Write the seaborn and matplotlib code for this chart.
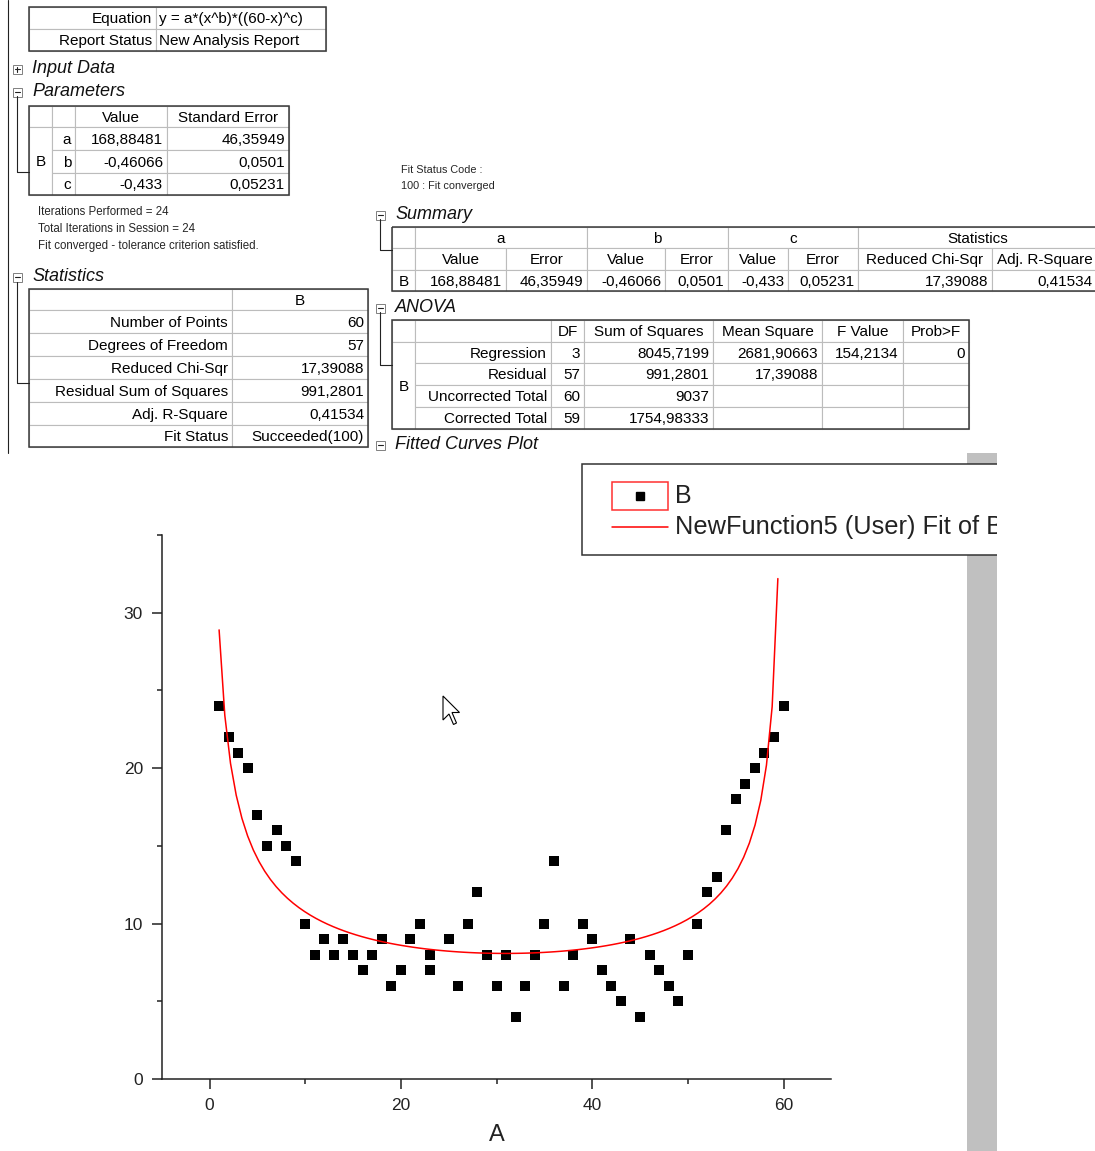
import numpy as np
import pandas as pd
import matplotlib
matplotlib.use("Agg")
import matplotlib.pyplot as plt
import seaborn as sns
from matplotlib.patches import Rectangle, Polygon
from matplotlib.ticker import MultipleLocator

# data columns A and B
col_a = [1, 2, 3, 4, 5, 6, 7, 8, 9, 10, 11, 12, 13, 14, 15, 16, 17, 18, 19, 20,
         21, 22, 23, 23, 25, 26, 27, 28, 29, 30, 31, 32, 33, 34, 35, 36, 37, 38, 39, 40,
         41, 42, 43, 44, 45, 46, 47, 48, 49, 50, 51, 52, 53, 54, 55, 56, 57, 58, 59, 60]
col_b = [24, 22, 21, 20, 17, 15, 16, 15, 14, 10, 8, 9, 8, 9, 8, 7, 8, 9, 6, 7,
         9, 10, 8, 7, 9, 6, 10, 12, 8, 6, 8, 4, 6, 8, 10, 14, 6, 8, 10, 9,
         7, 6, 5, 9, 4, 8, 7, 6, 5, 8, 10, 12, 13, 16, 18, 19, 20, 21, 22, 24]

# fit results
equation = "y = a*(x^b)*((60-x)^c)"
param_names = ["a", "b", "c"]
param_values = [168.88481, -0.46066, -0.433]
param_errors = [46.35949, 0.0501, 0.05231]

stat_labels = ["Number of Points", "Degrees of Freedom", "Reduced Chi-Sqr",
               "Residual Sum of Squares", "Adj. R-Square", "Fit Status"]
stat_values = [60, 57, 17.39088, 991.2801, 0.41534, "Succeeded(100)"]

anova_rows = ["Regression", "Residual", "Uncorrected Total", "Corrected Total"]
anova_df = [3, 57, 60, 59]
anova_ss = [8045.7199, 991.2801, 9037, 1754.98333]
anova_ms = [2681.90663, 17.39088, None, None]
anova_f = [154.2134, None, None, None]
anova_p = [0, None, None, None]


def fmt(v):
    if v is None:
        return ""
    return str(v).replace(".", ",")


sns.set_style("ticks")
plt.rcParams["font.family"] = ["Liberation Sans", "DejaVu Sans"]

fig = plt.figure(figsize=(10.95, 11.51), dpi=100)

# report area, drawn in pixel units
bg = fig.add_axes([0, 0, 1, 1], zorder=0)
bg.set_xlim(0, 1095)
bg.set_ylim(1151, 0)
bg.axis("off")

TFS = 11
INNER = "#bcbcbc"
OUTER = "#3a3a3a"


def table(xs, ys, cells):
    for c0, c1, r0, r1, txt, ha in cells:
        x0, x1, y0, y1 = xs[c0], xs[c1], ys[r0], ys[r1]
        bg.add_patch(Rectangle((x0, y0), x1 - x0, y1 - y0, fc="white", ec=INNER, lw=0.8))
        if txt != "":
            tx = {"right": x1 - 4, "left": x0 + 3, "center": (x0 + x1) / 2}[ha]
            bg.text(tx, (y0 + y1) / 2 + 1, txt, ha=ha, va="center", fontsize=TFS, color="black")
    bg.add_patch(Rectangle((xs[0], ys[0]), xs[-1] - xs[0], ys[-1] - ys[0],
                           fc="none", ec=OUTER, lw=1.1))


def icon(x, y, plus=False):
    bg.add_patch(Rectangle((x - 4.5, y - 4.5), 9, 9, fc="white", ec="#808080", lw=0.7))
    bg.plot([x - 2.5, x + 2.5], [y, y], color="#222", lw=0.8)
    if plus:
        bg.plot([x, x], [y - 2.5, y + 2.5], color="#222", lw=0.8)


def heading(x, y, txt, plus=False):
    icon(x, y + 1, plus)
    bg.text(x + 15, y, txt, ha="left", va="center", fontsize=13, style="italic", color="#111")


def branch(x, y0, y1, x1):
    bg.plot([x, x, x1], [y0, y1, y1], color="#222", lw=0.8)


# left margin line
bg.plot([8, 8], [0, 453], color="#222", lw=0.8)

# Notes table
table([29, 156, 326], [7, 29, 51],
      [(0, 1, 0, 1, "Equation", "right"), (1, 2, 0, 1, equation, "left"),
       (0, 1, 1, 2, "Report Status", "right"), (1, 2, 1, 2, "New Analysis Report", "left")])

heading(17, 68, "Input Data", plus=True)
heading(17, 91, "Parameters")
branch(17, 96, 172, 29)

cells = [(0, 1, 0, 1, "", "center"), (1, 2, 0, 1, "", "center"),
         (2, 3, 0, 1, "Value", "center"), (3, 4, 0, 1, "Standard Error", "center"),
         (0, 1, 1, 4, "B", "center")]
for i, n in enumerate(param_names):
    cells += [(1, 2, i + 1, i + 2, n, "right"),
              (2, 3, i + 1, i + 2, fmt(param_values[i]), "right"),
              (3, 4, i + 1, i + 2, fmt(param_errors[i]), "right")]
table([29, 52, 75, 167, 289], [106, 127, 150, 173, 195], cells)

for k, line in enumerate(["Iterations Performed = 24", "Total Iterations in Session = 24",
                          "Fit converged - tolerance criterion satisfied."]):
    bg.text(38, 212 + 17 * k, line, ha="left", va="center", fontsize=8.3)

heading(17, 276, "Statistics")
branch(17, 282, 383, 29)
cells = [(0, 1, 0, 1, "", "center"), (1, 2, 0, 1, "B", "center")]
for i, lab in enumerate(stat_labels):
    cells += [(0, 1, i + 1, i + 2, lab, "right"), (1, 2, i + 1, i + 2, fmt(stat_values[i]), "right")]
table([29, 232, 368], [289, 310, 333, 356, 379, 402, 425, 447], cells)

bg.text(401, 170, "Fit Status Code :", ha="left", va="center", fontsize=7.8)
bg.text(401, 186, "100 : Fit converged", ha="left", va="center", fontsize=7.8)

# Summary table
heading(380, 214, "Summary")
branch(380, 219, 250, 392)
cells = [(0, 1, 0, 1, "", "center"), (1, 3, 0, 1, "a", "center"), (3, 5, 0, 1, "b", "center"),
         (5, 7, 0, 1, "c", "center"), (7, 9, 0, 1, "Statistics", "center"),
         (0, 1, 1, 2, "", "center")]
for j, h in enumerate(["Value", "Error", "Value", "Error", "Value", "Error",
                       "Reduced Chi-Sqr", "Adj. R-Square"]):
    cells.append((j + 1, j + 2, 1, 2, h, "center"))
cells.append((0, 1, 2, 3, "B", "center"))
row_vals = []
for v, e in zip(param_values, param_errors):
    row_vals += [v, e]
row_vals += [stat_values[2], stat_values[4]]
for j, v in enumerate(row_vals):
    cells.append((j + 1, j + 2, 2, 3, fmt(v), "right"))
table([392, 415, 506, 587, 665, 728, 788, 858, 992, 1097], [227, 248, 270, 291], cells)

# ANOVA table
heading(380, 307, "ANOVA")
branch(380, 312, 365, 392)
cells = [(0, 1, 0, 1, "", "center"), (1, 2, 0, 1, "", "center")]
for j, h in enumerate(["DF", "Sum of Squares", "Mean Square", "F Value", "Prob>F"]):
    cells.append((j + 2, j + 3, 0, 1, h, "center"))
cells.append((0, 1, 1, 5, "B", "center"))
for i, r in enumerate(anova_rows):
    vals = [anova_df[i], anova_ss[i], anova_ms[i], anova_f[i], anova_p[i]]
    cells.append((1, 2, i + 1, i + 2, r, "right"))
    for j, v in enumerate(vals):
        cells.append((j + 2, j + 3, i + 1, i + 2, fmt(v), "right"))
table([392, 415, 551, 584, 713, 822, 903, 969], [320, 342, 363, 385, 407, 429], cells)

heading(380, 444, "Fitted Curves Plot")

# fitted curves plot
df = pd.DataFrame({"A": col_a, "B": col_b})
fit_x = np.linspace(1, 60, 100)[:-1]
fit_df = pd.DataFrame({"A": fit_x,
                       "fit": param_values[0] * fit_x ** param_values[1] * (60 - fit_x) ** param_values[2]})

ax = fig.add_axes([161.7 / 1095, 1 - 1079 / 1151, (831.4 - 161.7) / 1095, (1079 - 535) / 1151], zorder=1)
ax.patch.set_alpha(0)
sns.scatterplot(data=df, x="A", y="B", marker="s", color="black", s=55, linewidth=0,
                ax=ax, zorder=3, legend=False)
sns.lineplot(data=fit_df, x="A", y="fit", color="#ff0000", lw=1.1, ax=ax, zorder=4, legend=False)
ax.set_xlim(-5, 65)
ax.set_ylim(0, 35)
ax.xaxis.set_major_locator(MultipleLocator(20))
ax.xaxis.set_minor_locator(MultipleLocator(10))
ax.yaxis.set_major_locator(MultipleLocator(10))
ax.yaxis.set_minor_locator(MultipleLocator(5))
sns.despine(ax=ax)
for s in ["left", "bottom"]:
    ax.spines[s].set_color("#222")
    ax.spines[s].set_linewidth(1.1)
ax.tick_params(which="major", direction="out", length=7.5, width=1.1, color="#222",
               labelsize=12.5, labelcolor="#222", pad=6)
ax.tick_params(which="minor", direction="out", length=3.8, width=1.1, color="#222")
ax.set_xlabel("A", fontsize=17, labelpad=8, color="#222")
ax.set_ylabel("")

# overlay: side bar, legend, pointer
fg = fig.add_axes([0, 0, 997 / 1095, 1], zorder=2)
fg.set_xlim(0, 997)
fg.set_ylim(1151, 0)
fg.axis("off")
fg.patch.set_alpha(0)
fg.add_patch(Rectangle((967, 453), 40, 700, fc="#c0c0c0", ec="none"))
fg.add_patch(Rectangle((582, 464), 430, 91, fc="white", ec="#333", lw=1.1))
fg.add_patch(Rectangle((612, 482), 56, 28, fc="none", ec="#ff3030", lw=1.1))
fg.plot([640], [496], marker="s", color="black", ms=5.5, lw=0)
fg.plot([612, 668], [527, 527], color="#ff0000", lw=1.1)
fg.text(675, 496, "B", ha="left", va="center", fontsize=18, color="#222")
fg.text(675, 527, "NewFunction5 (User) Fit of B", ha="left", va="center", fontsize=18.3,
        color="#222", clip_on=True)
arrow = np.array([[0, 0], [0, 16], [4, 12], [7, 19], [9, 18], [6, 11], [11, 11]]) * 1.5
fg.add_patch(Polygon(arrow + [443, 696], closed=True, fc="white", ec="black", lw=0.8))

fig.savefig("out.png", dpi=100)
